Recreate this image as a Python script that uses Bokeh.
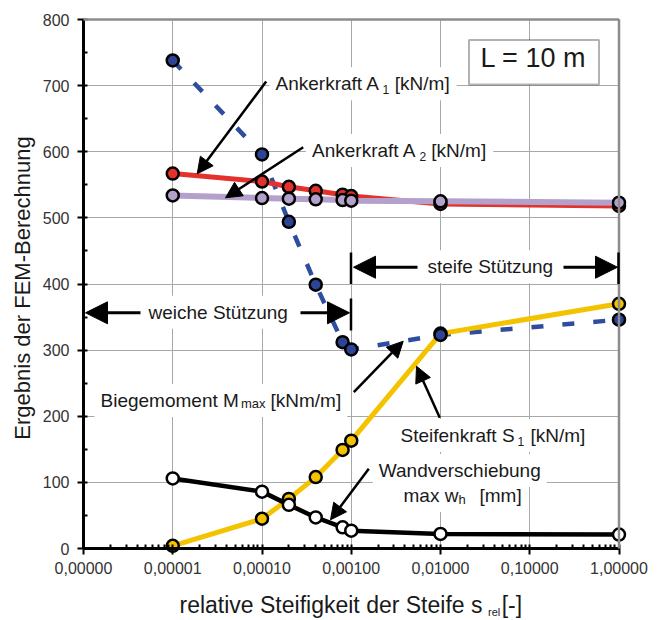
import math
from bokeh.plotting import figure
from bokeh.models import (Range1d, FixedTicker, CustomJSTickFormatter, Label, Arrow,
                          NormalHead, BoxAnnotation)
from bokeh.embed import file_html
from bokeh.resources import INLINE

# ---------------- data ----------------
s_rel = [1e-5, 1e-4, 2e-4, 4e-4, 8e-4, 1e-3, 1e-2, 1.0]
m_max = [738, 596, 494, 399, 312, 301, 323, 346]      # Biegemoment Mmax [kNm/m]
anker_a1 = [567, 555, 547, 541, 535, 533, 521, 518]   # Ankerkraft A1 [kN/m]
anker_a2 = [534, 530, 529, 528, 527, 526, 525, 523]   # Ankerkraft A2 [kN/m]
steif_s1 = [4, 45, 75, 108, 149, 163, 325, 370]       # Steifenkraft S1 [kN/m]
wand_wh = [106, 86, 66, 47, 32, 27, 22, 21]           # Wandverschiebung max wh [mm]

x_ticks = [1e-6, 1e-5, 1e-4, 1e-3, 1e-2, 1e-1, 1.0]
x_tick_labels = ["0,00000", "0,00001", "0,00010", "0,00100", "0,01000", "0,10000", "1,00000"]
y_ticks = [0, 100, 200, 300, 400, 500, 600, 700, 800]

# ---------------- layout ----------------
FONT = "Liberation Sans"
W, H = 661, 620
X0PX, X1PX = 83.0, 618.5      # pixel of x = 1e-6 and x = 1
Y0PX, Y1PX = 548.0, 19.0      # pixel of y = 0 and y = 800
DEC = (X1PX - X0PX) / 6.0
NB = "\u00a0"
PAD = 6

def fx(px):  # canvas px -> data x
    return 10 ** (-6 + (px - X0PX) / DEC)

def fy(py):  # canvas px -> data y
    return 800.0 * (Y0PX - py) / (Y0PX - Y1PX)

p = figure(width=W, height=H, x_axis_type="log",
           x_range=Range1d(fx(0), fx(W)), y_range=Range1d(fy(H), fy(0)),
           output_backend="svg", toolbar_location=None, min_border=0)
p.title.visible = False
p.outline_line_color = None
p.background_fill_color = "white"
p.border_fill_color = "white"

minor_x = [k * 10 ** e for e in range(-6, 0) for k in range(2, 10)]
p.xaxis.ticker = FixedTicker(ticks=x_ticks, minor_ticks=minor_x)
p.yaxis.ticker = FixedTicker(ticks=y_ticks, minor_ticks=[v + 50 for v in y_ticks[:-1]])
p.xgrid.ticker = FixedTicker(ticks=x_ticks)
p.ygrid.ticker = FixedTicker(ticks=y_ticks)
p.xaxis.formatter = CustomJSTickFormatter(
    args=dict(xvals=x_ticks, xlabels=x_tick_labels),
    code="for (let i = 0; i < xvals.length; i++) { if (Math.abs(Math.log10(xvals[i]) - Math.log10(tick)) < 1e-6) return xlabels[i]; } return '';")
p.xaxis.fixed_location = 0
p.yaxis.fixed_location = x_ticks[0]
p.xaxis.bounds = (x_ticks[0], x_ticks[-1])
p.yaxis.bounds = (y_ticks[0], y_ticks[-1])

for ax in (p.xaxis, p.yaxis):
    ax.axis_line_color = "black"
    ax.axis_line_width = 3
    ax.major_tick_line_color = "black"
    ax.major_tick_line_width = 2
    ax.minor_tick_line_color = "black"
    ax.minor_tick_line_width = 2
    ax.major_tick_in = 4
    ax.major_tick_out = 6
    ax.minor_tick_in = 4
    ax.minor_tick_out = 0
    ax.major_label_text_font = FONT
    ax.major_label_text_font_size = "16px"
    ax.major_label_text_color = "#333333"
p.xaxis.major_label_standoff = 7
p.yaxis.major_label_standoff = 8

for g in (p.xgrid, p.ygrid):
    g.grid_line_color = "#a8a8a8"
    g.grid_line_width = 1
try:
    p.ygrid[0].cross_bounds = (x_ticks[0], x_ticks[-1])
    p.xgrid[0].cross_bounds = (y_ticks[0], y_ticks[-1])
except Exception:
    pass

# top and right border (grey)
for (xa, ya, xb, yb) in [(x_ticks[0], 800, 1.0, 800), (1.0, 0, 1.0, 800)]:
    p.add_layout(Arrow(end=None, x_start=xa, y_start=ya, x_end=xb, y_end=yb,
                       line_color="#8c8c8c", line_width=2.5))

# ---------------- series ----------------
BLUE = "#2d4394"
RED = "#e3322b"
LILA = "#b3a1cc"
YELLOW = "#f4c300"

p.line(s_rel, m_max, line_color="#2f4d9e", line_width=4.5, line_dash="12 19")
p.line(s_rel, steif_s1, line_color=YELLOW, line_width=5)
p.line(s_rel, wand_wh, line_color="black", line_width=4.5)
p.line(s_rel, anker_a1, line_color=RED, line_width=5)
p.line(s_rel, anker_a2, line_color=LILA, line_width=6)

mk = dict(size=12, line_color="black", line_width=2.5)
p.scatter(s_rel, steif_s1, fill_color=YELLOW, **mk)
p.scatter(s_rel, wand_wh, fill_color="white", **mk)
p.scatter(s_rel, anker_a1, fill_color=RED, **mk)
p.scatter(s_rel, anker_a2, fill_color=LILA, **mk)
p.scatter(s_rel, m_max, fill_color=BLUE, **mk)

# ---------------- annotations ----------------
def txt(px, base, s, size, bg=False, align="left", angle=0.0, center=None, color="#1a1a1a"):
    """px: left (or centre) x; base: baseline y in canvas px."""
    cy = center if center is not None else base - 0.35 * size
    if bg and align == "left":
        px -= PAD
    lab = Label(x=fx(px), y=fy(cy), text=s, text_font=FONT, text_font_size=f"{size}px",
                text_color=color, text_align=align, text_baseline="middle", angle=angle)
    if bg:
        lab.background_fill_color = "white"
        try:
            lab.padding = PAD
        except Exception:
            pass
    p.add_layout(lab)

def arrow(x0, y0, x1, y1, head=16, lw=2.5):
    end = NormalHead(size=head, fill_color="black", line_color="black", line_width=1) if head else None
    p.add_layout(Arrow(end=end, x_start=fx(x0), y_start=fy(y0), x_end=fx(x1), y_end=fy(y1),
                       line_color="black", line_width=lw))

# L = 10 m box
p.add_layout(BoxAnnotation(left=fx(468.5), right=fx(598.5), top=fy(39.5), bottom=fy(84),
                           fill_color="white", fill_alpha=1.0, line_color="black", line_width=2))
txt(533, 67, "L = 10 m", 27, align="center")

txt(275, 90, "Ankerkraft A" + NB * 3 + "[kN/m]", 19, bg=True)
txt(382, 93.5, "1", 12)
txt(311.5, 156.7, "Ankerkraft A" + NB * 3 + "[kN/m]", 19, bg=True)
txt(419, 160, "2", 12)
txt(427, 273, "steife Stützung", 19, bg=True)
txt(148, 318.5, "weiche Stützung", 19, bg=True)
txt(100, 406.7, "Biegemoment M" + NB * 6 + "[kNm/m]", 19, bg=True)
txt(240.5, 408, "max", 13)
txt(400, 441.7, "Steifenkraft S" + NB * 3 + "[kN/m]", 19, bg=True)
txt(517, 445, "1", 12)
txt(378.3, 476.7, "Wandverschiebung", 19, bg=True)
txt(403, 501.7, "max w" + NB * 4 + "[mm]", 19, bg=True)
txt(458, 503.5, "h", 13)

# axis titles
txt(22, 0, "Ergebnis der FEM-Berechnung", 22, align="center", angle=math.pi / 2, center=287.5)
txt(179, 612.5, "relative Steifigkeit der Steife s" + NB * 3 + "[-]", 23)
txt(487.5, 615.5, "rel", 11)

# arrows
arrow(265.7, 81, 196.7, 173.3)
arrow(302.7, 146.7, 225, 197.3)
arrow(353.3, 391.7, 402.7, 340.7)
arrow(439.3, 417.3, 416, 365.7)
arrow(368.3, 468.3, 330, 519.3)

# steife Stützung
arrow(417, 266.7, 353, 266.7, head=22, lw=3)
arrow(563, 266.7, 617, 266.7, head=22, lw=3)
arrow(350.5, 252, 350.5, 283.5, head=None, lw=2.5)
arrow(618, 252, 618, 283.5, head=None, lw=2.5)
# weiche Stützung
arrow(140, 312.3, 85, 312.3, head=22, lw=3)
arrow(300, 312.3, 349, 312.3, head=22, lw=3)
arrow(350.5, 298, 350.5, 330, head=None, lw=2.5)

open("out.html", "w").write(file_html(p, INLINE))
